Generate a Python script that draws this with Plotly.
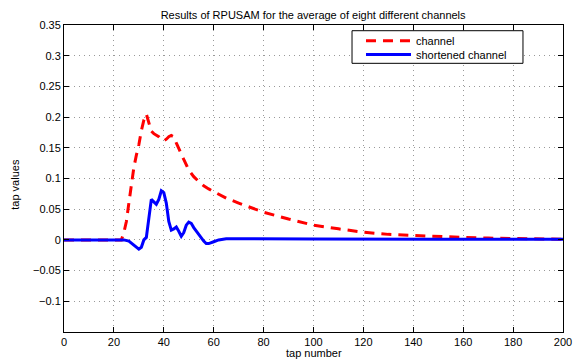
import plotly.graph_objects as go

# Channel (red dashed)
ch_x = [0, 23, 24, 25, 26, 27, 28, 29, 30, 31, 32, 33, 34, 35, 36, 37, 38, 39, 40, 41, 42, 43, 44,
        45, 46, 47, 48, 50, 52, 54, 56, 58, 60, 65, 70, 75, 80, 90, 100, 110, 120, 130, 140,
        150, 160, 170, 180, 190, 200]
ch_y = [0, 0, 0.012, 0.03, 0.06, 0.09, 0.118, 0.138, 0.155, 0.178, 0.195, 0.205, 0.192, 0.177,
        0.173, 0.171, 0.168, 0.164, 0.161, 0.164, 0.168, 0.17, 0.168, 0.158, 0.148, 0.14, 0.131,
        0.114, 0.103, 0.095, 0.088, 0.083, 0.079, 0.068, 0.06, 0.052, 0.045, 0.034, 0.024,
        0.018, 0.0125, 0.009, 0.007, 0.005, 0.004, 0.003, 0.002, 0.0015, 0.001]

# Shortened channel (blue solid)
sh_x = [0, 23, 24, 26, 28, 29, 30, 31, 32, 33, 34, 35, 36, 37, 38, 39, 40, 41, 42, 43, 44, 45,
        46, 47, 48, 49, 50, 51, 52, 54, 56, 57, 58, 60, 62, 65, 70, 100, 150, 200]
sh_y = [0, 0, 0, -0.002, -0.008, -0.012, -0.015, -0.012, 0.0, 0.004, 0.04, 0.066, 0.062, 0.058,
        0.066, 0.08, 0.077, 0.06, 0.03, 0.016, 0.018, 0.021, 0.014, 0.006, 0.012, 0.024, 0.029,
        0.027, 0.02, 0.008, -0.002, -0.006, -0.006, -0.003, 0.0, 0.002, 0.0018, 0.0015, 0.0012,
        0.001]

series_names = ["channel", "shortened channel"]
series_colors = ["#ff0000", "#0000ff"]
series_dash = ["10px,7px", "solid"]

x_ticks = list(range(0, 201, 20))
y_ticks = [-0.1, -0.05, 0, 0.05, 0.1, 0.15, 0.2, 0.25, 0.3, 0.35]
y_labels = ["\u22120.1", "\u22120.05", "0", "0.05", "0.1", "0.15", "0.2", "0.25", "0.3", "0.35"]

FONT = "Liberation Sans, Arial, Helvetica, sans-serif"

fig = go.Figure()
for xs, ys, nm, col, dsh in zip([ch_x, sh_x], [ch_y, sh_y], series_names, series_colors, series_dash):
    fig.add_trace(go.Scatter(x=xs, y=ys, mode="lines", name=nm, showlegend=False,
                             line=dict(color=col, width=3, dash=dsh)))

axis_common = dict(showline=True, linecolor="black", linewidth=1, mirror="ticks",
                   ticks="inside", ticklen=5, tickcolor="black", automargin=False,
                   showgrid=True, gridcolor="#999999", gridwidth=1, griddash="1px,4px",
                   zeroline=False, tickfont=dict(family=FONT, size=11, color="black"))

# Legend drawn as a box with sample lines and labels (paper coordinates)
shapes = [dict(type="rect", xref="paper", yref="paper", x0=0.5772, x1=0.9198, y0=0.8752, y1=0.9814,
               line=dict(color="black", width=1), fillcolor="white", layer="above")]
annotations = []
row_y = [0.9491, 0.9036]
for nm, col, dsh, ry in zip(series_names, series_colors, series_dash, row_y):
    shapes.append(dict(type="line", xref="paper", yref="paper", x0=0.6052, x1=0.6954, y0=ry, y1=ry,
                       line=dict(color=col, width=3, dash=dsh), layer="above"))
    annotations.append(dict(text=nm, xref="paper", yref="paper", x=0.7014, y=ry, xanchor="left",
                            yanchor="middle", showarrow=False,
                            font=dict(family=FONT, size=11, color="black")))

annotations.append(dict(text="tap number", xref="paper", yref="paper", x=0.5, y=-0.07,
                        xanchor="center", yanchor="middle", showarrow=False,
                        font=dict(family=FONT, size=11, color="black")))
annotations.append(dict(text="tap values", xref="paper", yref="paper", x=-0.098, y=0.48,
                        xanchor="center", yanchor="middle", showarrow=False, textangle=-90,
                        font=dict(family=FONT, size=11, color="black")))

fig.update_layout(
    width=574, height=360,
    margin=dict(l=64, r=11, t=25, b=28),
    paper_bgcolor="white", plot_bgcolor="white",
    title=dict(text="Results of RPUSAM for the average of eight different channels",
               x=0.5455, xanchor="center", y=0.958, yanchor="middle",
               font=dict(family=FONT, size=11, color="black")),
    xaxis=dict(range=[0, 200], tickvals=x_ticks, **axis_common),
    yaxis=dict(range=[-0.15, 0.35], tickvals=y_ticks, ticktext=y_labels, **axis_common),
    shapes=shapes,
    annotations=annotations,
    showlegend=False,
)

fig.write_html("out.html")
